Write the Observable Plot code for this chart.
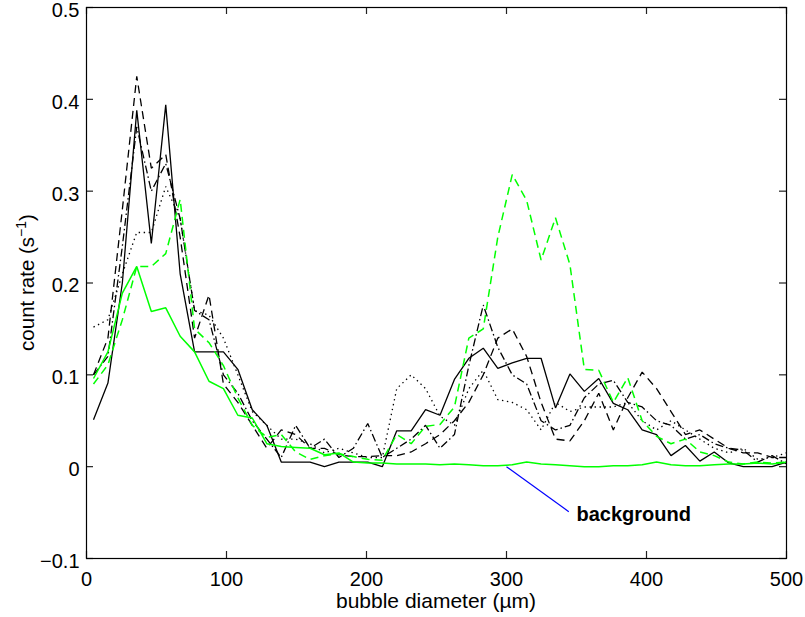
<!DOCTYPE html>
<html><head><meta charset="utf-8">
<script src="https://cdn.jsdelivr.net/npm/d3@7"></script>
<script src="https://cdn.jsdelivr.net/npm/@observablehq/plot@0.6"></script>
<style>body{margin:0;background:#fff}</style>
</head><body><div id="chart"></div>
<script>
// bubble diameter bin centres (µm)
const diameters = [5, 15.3, 25.6, 35.9, 46.3, 56.6, 66.9, 77.2, 87.5, 97.8, 108.1, 118.4, 128.8, 139.1, 149.4, 159.7, 170, 180.3, 190.6, 200.9, 211.3, 221.6, 231.9, 242.2, 252.5, 262.8, 273.1, 283.4, 293.8, 304.1, 314.4, 324.7, 335, 345.3, 355.6, 365.9, 376.3, 386.6, 396.9, 407.2, 417.5, 427.8, 438.1, 448.4, 458.8, 469.1, 479.4, 489.7, 500];

// count rates (1/s)
const solidBlack = [0.051, 0.091, 0.20, 0.388, 0.243, 0.394, 0.21, 0.125, 0.125, 0.125, 0.106, 0.062, 0.045, 0.005, 0.005, 0.005, 0.0, 0.005, 0.005, 0.005, 0.0, 0.039, 0.039, 0.062, 0.056, 0.095, 0.118, 0.129, 0.107, 0.113, 0.118, 0.118, 0.064, 0.101, 0.082, 0.096, 0.069, 0.062, 0.040, 0.035, 0.012, 0.023, 0.006, 0.016, 0.004, 0.0, 0.0, 0.0, 0.005];
const dashedBlack = [0.10, 0.14, 0.28, 0.425, 0.325, 0.34, 0.25, 0.14, 0.187, 0.09, 0.07, 0.045, 0.02, 0.04, 0.035, 0.02, 0.02, 0.013, 0.011, 0.011, 0.012, 0.012, 0.016, 0.025, 0.035, 0.05, 0.07, 0.10, 0.14, 0.15, 0.12, 0.07, 0.03, 0.028, 0.05, 0.08, 0.04, 0.075, 0.103, 0.085, 0.06, 0.035, 0.04, 0.03, 0.02, 0.015, 0.015, 0.01, 0.01];
const dashDotBlack = [0.10, 0.12, 0.24, 0.37, 0.30, 0.33, 0.27, 0.17, 0.16, 0.10, 0.08, 0.05, 0.03, 0.01, 0.045, 0.02, 0.03, 0.01, 0.02, 0.047, 0.01, 0.02, 0.03, 0.045, 0.02, 0.035, 0.11, 0.176, 0.13, 0.10, 0.09, 0.05, 0.04, 0.045, 0.075, 0.09, 0.094, 0.07, 0.065, 0.05, 0.045, 0.03, 0.035, 0.025, 0.02, 0.018, 0.005, 0.012, 0.003];
const dottedBlack = [0.152, 0.16, 0.21, 0.255, 0.255, 0.305, 0.27, 0.17, 0.165, 0.14, 0.10, 0.06, 0.045, 0.03, 0.03, 0.025, 0.015, 0.02, 0.015, 0.01, 0.01, 0.085, 0.10, 0.085, 0.055, 0.045, 0.085, 0.105, 0.073, 0.07, 0.062, 0.04, 0.07, 0.06, 0.065, 0.065, 0.065, 0.07, 0.05, 0.04, 0.05, 0.04, 0.03, 0.02, 0.015, 0.02, 0.008, 0.01, 0.015];
const dashedGreen = [0.090, 0.111, 0.16, 0.218, 0.218, 0.232, 0.291, 0.15, 0.135, 0.11, 0.075, 0.045, 0.032, 0.035, 0.016, 0.008, 0.012, 0.014, 0.011, 0.008, 0.007, 0.035, 0.025, 0.044, 0.046, 0.065, 0.14, 0.15, 0.25, 0.318, 0.29, 0.225, 0.271, 0.22, 0.106, 0.105, 0.07, 0.097, 0.05, 0.033, 0.025, 0.03, 0.016, 0.012, 0.005, 0.003, 0.005, 0.004, 0.005];
const background = [0.096, 0.125, 0.189, 0.218, 0.169, 0.173, 0.142, 0.125, 0.093, 0.085, 0.056, 0.053, 0.025, 0.022, 0.021, 0.020, 0.013, 0.015, 0.005, 0.004, 0.004, 0.003, 0.003, 0.003, 0.002, 0.003, 0.002, 0.001, 0.001, 0.002, 0.005, 0.003, 0.002, 0.001, 0.0, 0.0, 0.001, 0.001, 0.002, 0.005, 0.002, 0.001, 0.001, 0.002, 0.003, 0.003, 0.004, 0.003, 0.005];

const xTicks = [0, 100, 200, 300, 400, 500];
const yTicks = [-0.1, 0, 0.1, 0.2, 0.3, 0.4, 0.5];
const yTickLabels = ["\u22120.1", "0", "0.1", "0.2", "0.3", "0.4", "0.5"];

const annotationLine = [{x1: 300, y1: 0, x2: 344.5, y2: -0.049}];
const annotationText = [{x: 350, y: -0.052, label: "background"}];

const xLabel = "bubble diameter (\u00b5m)";

const W = 805, H = 617;
const mL = 86, mR = 19, mT = 7, mB = 59;
const innerW = W - mL - mR, innerH = H - mT - mB;
const tickLen = 7;

const toRows = vals => vals.map((v, i) => ({x: diameters[i], y: v}));

const lineStyles = [
  {data: solidBlack, stroke: "#000", dash: null, w: 1.3},
  {data: dashedBlack, stroke: "#000", dash: "8,5", w: 1.3},
  {data: dashDotBlack, stroke: "#000", dash: "8,3,1.5,3", w: 1.3},
  {data: dottedBlack, stroke: "#000", dash: "1.4,3.6", w: 1.3},
  {data: dashedGreen, stroke: "#00ff00", dash: "8,5", w: 1.5},
  {data: background, stroke: "#00ff00", dash: null, w: 1.5}
];

const plot = Plot.plot({
  width: W, height: H,
  marginLeft: mL, marginRight: mR, marginTop: mT, marginBottom: mB,
  style: {fontFamily: "'Liberation Sans', Arial, sans-serif", fontSize: "20px", background: "white", color: "black"},
  x: {domain: [0, 500]},
  y: {domain: [-0.1, 0.5]},
  marks: [
    ...lineStyles.map(s => Plot.line(toRows(s.data), {
      x: "x", y: "y", stroke: s.stroke, strokeWidth: s.w,
      strokeDasharray: s.dash, strokeLinecap: "butt", strokeLinejoin: "miter", clip: true
    })),
    Plot.link(annotationLine, {x1: "x1", y1: "y1", x2: "x2", y2: "y2", stroke: "#0000ff", strokeWidth: 1.2}),
    Plot.text(annotationText, {x: "x", y: "y", text: "label", textAnchor: "start", fontWeight: "bold", fontSize: 20, fill: "black"}),
    // inward ticks on all four sides
    Plot.tickX(xTicks, {x: d => d, insetTop: innerH - tickLen, stroke: "#222", strokeWidth: 1.2}),
    Plot.tickX(xTicks, {x: d => d, insetBottom: innerH - tickLen, stroke: "#222", strokeWidth: 1.2}),
    Plot.tickY(yTicks, {y: d => d, insetRight: innerW - tickLen, stroke: "#222", strokeWidth: 1.2}),
    Plot.tickY(yTicks, {y: d => d, insetLeft: innerW - tickLen, stroke: "#222", strokeWidth: 1.2}),
    Plot.axisX({ticks: xTicks, tickSize: 0, tickPadding: 13, label: null, tickFormat: d => String(d), fontSize: 20}),
    Plot.axisY({ticks: yTicks, tickSize: 0, tickPadding: 7, dy: 3, label: null, tickFormat: d => yTickLabels[yTicks.indexOf(d)], fontSize: 20}),
    Plot.frame({stroke: "black", strokeWidth: 1.2})
  ]
});

const svg = d3.select(plot);
svg.append("text")
  .attr("x", mL + innerW / 2).attr("y", 608)
  .attr("text-anchor", "middle")
  .attr("font-size", 21)
  .attr("fill", "black")
  .text(xLabel);

const yl = svg.append("text")
  .attr("transform", `translate(34,${mT + innerH / 2}) rotate(-90)`)
  .attr("text-anchor", "middle")
  .attr("font-size", 20.5)
  .attr("fill", "black");
yl.append("tspan").text("count rate (s");
yl.append("tspan").attr("baseline-shift", "super").attr("font-size", 14).text("\u22121");
yl.append("tspan").text(")");

document.getElementById("chart").appendChild(plot);
</script>
</body></html>
